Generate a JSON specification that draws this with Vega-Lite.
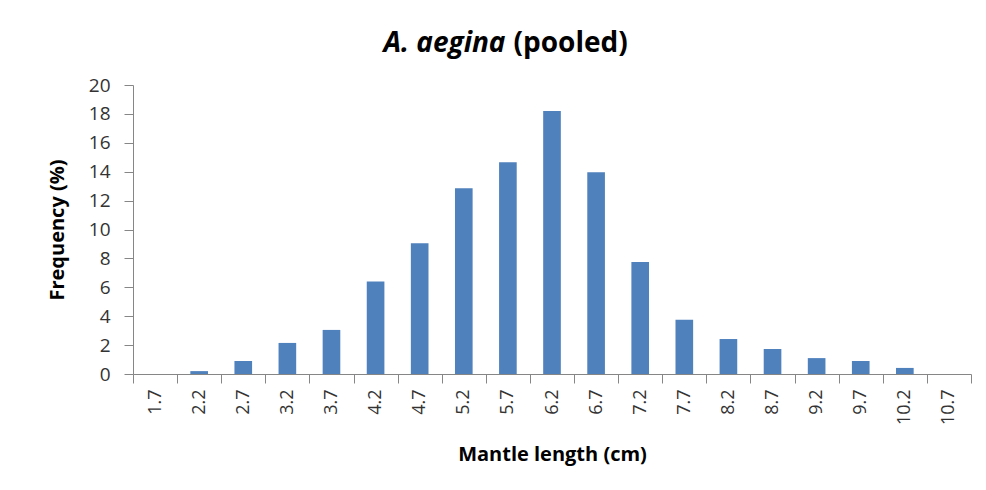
{
  "$schema": "https://vega.github.io/schema/vega-lite/v6.json",
  "width": 838,
  "height": 289,
  "autosize": {"type": "none"},
  "padding": {"left": 133, "top": 85, "right": 15, "bottom": 116},
  "background": "white",
  "data": {
    "values": [
      {"length": "1.7", "freq": 0},
      {"length": "2.2", "freq": 0.2},
      {"length": "2.7", "freq": 0.9},
      {"length": "3.2", "freq": 2.15},
      {"length": "3.7", "freq": 3.05},
      {"length": "4.2", "freq": 6.4},
      {"length": "4.7", "freq": 9.05},
      {"length": "5.2", "freq": 12.85},
      {"length": "5.7", "freq": 14.65},
      {"length": "6.2", "freq": 18.2},
      {"length": "6.7", "freq": 13.97},
      {"length": "7.2", "freq": 7.75},
      {"length": "7.7", "freq": 3.75},
      {"length": "8.2", "freq": 2.42},
      {"length": "8.7", "freq": 1.73},
      {"length": "9.2", "freq": 1.1},
      {"length": "9.7", "freq": 0.9},
      {"length": "10.2", "freq": 0.42},
      {"length": "10.7", "freq": 0}
    ]
  },
  "layer": [
    {
      "mark": {"type": "bar", "color": "#4F81BD", "width": {"band": 0.4}},
      "encoding": {
        "x": {
          "field": "length", "type": "ordinal", "sort": null,
          "scale": {"paddingInner": 0, "paddingOuter": 0},
          "axis": {
            "title": "Mantle length (cm)",
            "labelAngle": -90,
            "labelAlign": "right",
            "labelBaseline": "middle",
            "tickBand": "extent",
            "tickSize": 9,
            "labelPadding": 6,
            "labelFontSize": 18,
            "titleFontSize": 20,
            "titleY": 86,
            "titleBaseline": "alphabetic"
          }
        },
        "y": {
          "field": "freq", "type": "quantitative",
          "scale": {"domain": [0, 20]},
          "axis": {
            "title": "Frequency (%)",
            "values": [0, 2, 4, 6, 8, 10, 12, 14, 16, 18, 20],
            "grid": false,
            "tickSize": 9,
            "labelPadding": 14,
            "labelFontSize": 19,
            "titleFontSize": 20,
            "titleX": -76,
            "titleBaseline": "middle"
          }
        }
      }
    },
    {
      "mark": {"type": "bar", "opacity": 0, "width": {"band": 0.4}},
      "encoding": {
        "x": {
          "field": "length", "type": "ordinal", "sort": null,
          "axis": {
            "orient": "top",
            "title": "A. aegina",
            "labels": false, "ticks": false, "domain": false,
            "titleFontSize": 28,
            "titleFontStyle": "italic",
            "titleAlign": "right",
            "titleX": 372,
            "titleY": -34,
            "titleBaseline": "alphabetic"
          }
        },
        "y": {
          "field": "freq", "type": "quantitative",
          "axis": {
            "orient": "right",
            "title": "(pooled)",
            "labels": false, "ticks": false, "domain": false, "grid": false,
            "titleAngle": 0,
            "titleFontSize": 28,
            "titleAlign": "left",
            "titleX": -458,
            "titleY": -34,
            "titleBaseline": "alphabetic"
          }
        }
      }
    }
  ],
  "resolve": {"axis": {"x": "independent", "y": "independent"}},
  "config": {
    "view": {"stroke": null},
    "axis": {
      "labelFont": "Open Sans",
      "titleFont": "Open Sans",
      "labelColor": "#333333",
      "titleColor": "#000000",
      "titleFontWeight": "bold",
      "domainColor": "#868686",
      "tickColor": "#868686"
    }
  }
}
